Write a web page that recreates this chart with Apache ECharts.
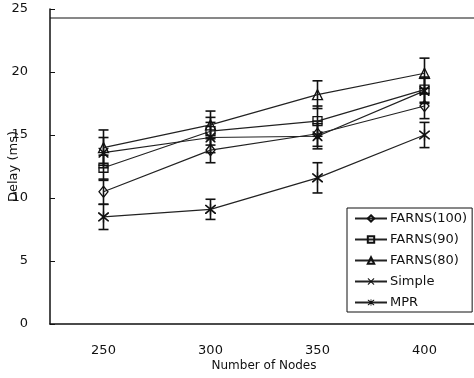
<!DOCTYPE html>
<html>
<head>
<meta charset="utf-8">
<script src="https://cdn.jsdelivr.net/npm/echarts@6/dist/echarts.min.js"></script>
<style>
    html, body { margin: 0; padding: 0; background: #fff; }
    #main { width: 474px; height: 378px; }
</style>
</head>
<body>
<div id="main"></div>
<script>
// x categories (number of nodes)
var nodes = ['250', '300', '350', '400'];
var yTicks = [0, 5, 10, 15, 20, 25];

// mean delay (ms)
var farns100 = [10.5, 13.8, 15.1, 17.3];
var farns90 = [12.4, 15.3, 16.1, 18.6];
var farns80 = [14.0, 15.8, 18.2, 19.9];
var simple = [13.6, 14.8, 14.9, 18.5];
var mpr = [8.5, 9.1, 11.6, 15.0];

// error (+/-) for each point
var farns100Err = [1.0, 1.0, 1.0, 1.0];
var farns90Err = [1.0, 1.1, 1.2, 1.0];
var farns80Err = [1.4, 1.1, 1.1, 1.2];
var simpleErr = [1.2, 1.2, 1.0, 1.0];
var mprErr = [1.0, 0.8, 1.2, 1.0];

var font = 'DejaVu Sans';
var black = '#111';

// x and * drawn as thin filled strokes
var crossPath = 'path://M0,0 L1.2,0 L10,8.8 L10,10 L8.8,10 L0,1.2 Z M8.8,0 L10,0 L10,1.2 L1.2,10 L0,10 L0,8.8 Z';
var starPath = 'path://M0,0 L1.2,0 L10,8.8 L10,10 L8.8,10 L0,1.2 Z M8.8,0 L10,0 L10,1.2 L1.2,10 L0,10 L0,8.8 Z M4.4,-1 L5.6,-1 L5.6,11 L4.4,11 Z';

function errData(vals, errs) {
    var out = [];
    for (var i = 0; i < vals.length; i++) {
        out.push([i, vals[i] - errs[i], vals[i] + errs[i]]);
    }
    return out;
}

function renderErr(params, api) {
    var top = api.coord([api.value(0), api.value(2)]);
    var bot = api.coord([api.value(0), api.value(1)]);
    var hw = 5;
    var style = { stroke: black, lineWidth: 1.6 };
    return {
        type: 'group',
        children: [
            { type: 'line', shape: { x1: top[0], y1: top[1], x2: bot[0], y2: bot[1] }, style: style },
            { type: 'line', shape: { x1: top[0] - hw, y1: top[1], x2: top[0] + hw, y2: top[1] }, style: style },
            { type: 'line', shape: { x1: bot[0] - hw, y1: bot[1], x2: bot[0] + hw, y2: bot[1] }, style: style }
        ]
    };
}

function lineSeries(name, data, symbol, size, filled) {
    return {
        name: name,
        type: 'line',
        data: data,
        symbol: symbol,
        symbolSize: size,
        z: 3,
        lineStyle: { color: '#222', width: 1.2 },
        itemStyle: {
            color: filled ? black : 'rgba(255,255,255,0)',
            borderColor: black,
            borderWidth: filled ? 0 : 1.3
        }
    };
}

function errSeries(vals, errs) {
    return {
        type: 'custom',
        renderItem: renderErr,
        data: errData(vals, errs),
        z: 2,
        silent: true,
        encode: { x: 0, y: [1, 2] }
    };
}

var myChart = echarts.init(document.getElementById('main'));

var option = {
    backgroundColor: '#fff',
    animation: false,
    textStyle: { fontFamily: font, color: black },
    grid: { left: 50, right: -4, top: 9, bottom: 54, containLabel: false, outerBoundsMode: 'none' },
    legend: {
        orient: 'vertical',
        left: 347,
        top: 208,
        padding: [4, 5, 3, 7],
        itemWidth: 32,
        itemHeight: 8,
        itemGap: 8,
        backgroundColor: '#fff',
        borderColor: black,
        borderWidth: 1,
        textStyle: { fontFamily: font, fontSize: 13, color: black, padding: [0, 0, 0, -2] },
        data: ['FARNS(100)', 'FARNS(90)', 'FARNS(80)', 'Simple', 'MPR']
    },
    xAxis: {
        type: 'category',
        data: nodes,
        boundaryGap: true,
        name: 'Number of Nodes',
        nameLocation: 'middle',
        nameGap: 36,
        nameMoveOverlap: false,
        nameTextStyle: { fontFamily: font, fontSize: 12, color: black },
        axisLine: { lineStyle: { color: black, width: 1.5 } },
        axisTick: { inside: true, length: 5, lineStyle: { color: black } },
        axisLabel: { margin: 20, fontSize: 13, color: black, fontFamily: font }
    },
    yAxis: {
        type: 'value',
        min: yTicks[0],
        max: yTicks[yTicks.length - 1],
        interval: 5,
        name: 'Delay (ms)',
        nameLocation: 'middle',
        nameGap: 30,
        nameMoveOverlap: false,
        nameTextStyle: { fontFamily: font, fontSize: 13, color: black },
        axisLine: { show: true, lineStyle: { color: black, width: 1.5 } },
        axisTick: { show: true, inside: true, length: 5, lineStyle: { color: black } },
        axisLabel: { margin: 22, fontSize: 13, color: black, fontFamily: font },
        splitLine: { show: false }
    },
    graphic: [{
        // top frame edge of the plot box
        type: 'line',
        shape: { x1: 50, y1: 18, x2: 474, y2: 18 },
        style: { stroke: black, lineWidth: 1 }
    }],
    series: [
        errSeries(farns100, farns100Err),
        errSeries(farns90, farns90Err),
        errSeries(farns80, farns80Err),
        errSeries(simple, simpleErr),
        errSeries(mpr, mprErr),
        lineSeries('FARNS(100)', farns100, 'diamond', [9, 11], false),
        lineSeries('FARNS(90)', farns90, 'rect', 9, false),
        lineSeries('FARNS(80)', farns80, 'triangle', 10, false),
        lineSeries('Simple', simple, crossPath, 10, true),
        lineSeries('MPR', mpr, starPath, 11, true)
    ]
};

myChart.setOption(option);
</script>
</body>
</html>
